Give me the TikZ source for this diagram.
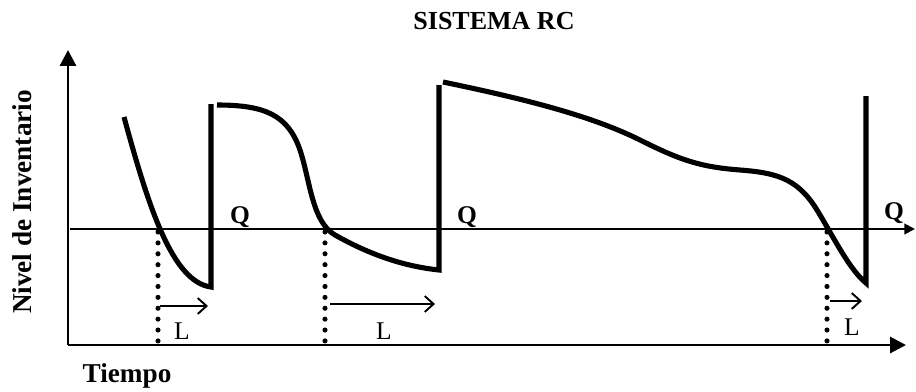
\documentclass[tikz,border=0pt]{standalone}
\usepackage{fontspec}
\setmainfont{Liberation Serif}
\usetikzlibrary{arrows.meta}
\tikzset{
  eje/.style={line width=1.7pt,-{Triangle[length=9pt,width=9pt]}},
  reord/.style={line width=1.1pt,-{Triangle[length=6pt,width=6pt]}},
  nivel/.style={line width=2.9pt,line join=miter},
  espera/.style={line width=2.9pt,line cap=round,dash pattern=on 0pt off 6.2pt},
  plazo/.style={line width=1.1pt,-{Straight Barb[length=5pt,width=9pt]}},
  titulo/.style={font=\fontsize{14.8}{18}\selectfont\bfseries,inner sep=0pt},
  etiq/.style={font=\fontsize{15.5}{18}\selectfont\bfseries,inner sep=0pt},
  cant/.style={font=\fontsize{14.5}{17}\selectfont\bfseries,inner sep=0pt},
  letra/.style={font=\fontsize{14.5}{17}\selectfont,inner sep=0pt},
}
% pixel grid of the chart, y grows downwards
\newcommand{\Puntos}{%
  \coordinate (O) at (68,345);   \coordinate (Ytop) at (68,50);
  \coordinate (Xend) at (906,345);
  \coordinate (R0) at (70,229);  \coordinate (R1) at (915,229);
  \coordinate (s1t) at (211,104); \coordinate (s2t) at (439,85);
  \coordinate (s3t) at (866,96);
  \coordinate (d1) at (158,232); \coordinate (d1b) at (158,345);
  \coordinate (d2) at (325,232); \coordinate (d2b) at (325,345);
  \coordinate (d3) at (827,232); \coordinate (d3b) at (827,345);
  \coordinate (l1a) at (160,306); \coordinate (l1b) at (208,306);
  \coordinate (l2a) at (330,304); \coordinate (l2b) at (435,304);
  \coordinate (l3a) at (830,301); \coordinate (l3b) at (862,301);
}
\begin{document}
\begin{tikzpicture}[x=0.02cm,y=-0.02cm]
  \useasboundingbox (0,0) rectangle (916,392);
  \Puntos
  % axes and reorder level
  \draw[eje] (O) -- (Ytop);
  \draw[eje] (O) -- (Xend);
  \draw[reord] (R0) -- (R1);
  % inventory level
  \draw[nivel] (124,117) .. controls (148,205) and (172,282) .. (211,287) -- (s1t);
  \draw[nivel] (217,105) .. controls (265,105) and (288,115) .. (300,150)
    .. controls (310,180) and (312,222) .. (335,235)
    .. controls (365,252) and (400,266) .. (439,270) -- (s2t);
  \draw[nivel] (443,82) .. controls (520,98) and (590,115) .. (640,140)
    .. controls (680,160) and (700,167) .. (740,170)
    .. controls (780,173) and (800,180) .. (820,215)
    .. controls (835,240) and (850,270) .. (866,283) -- (s3t);
  % lead times
  \draw[espera] (d1) -- (d1b);
  \draw[espera] (d2) -- (d2b);
  \draw[espera] (d3) -- (d3b);
  \draw[plazo] (l1a) -- (l1b);
  \draw[plazo] (l2a) -- (l2b);
  \draw[plazo] (l3a) -- (l3b);
  % texts
  \node[titulo] (tit) at (494,21) {SISTEMA RC};
  \node[etiq,rotate=90] (ylab) at (22,202) {Nivel de Inventario};
  \node[etiq] (xlab) at (127,376) {Tiempo};
  \node[cant] (q1) at (240,217) {Q};
  \node[cant] (q2) at (467,217) {Q};
  \node[cant] (q3) at (894,213) {Q};
  \node[letra] (L1) at (182,331) {L};
  \node[letra] (L2) at (384,331) {L};
  \node[letra] (L3) at (852,327) {L};
\end{tikzpicture}
\end{document}
